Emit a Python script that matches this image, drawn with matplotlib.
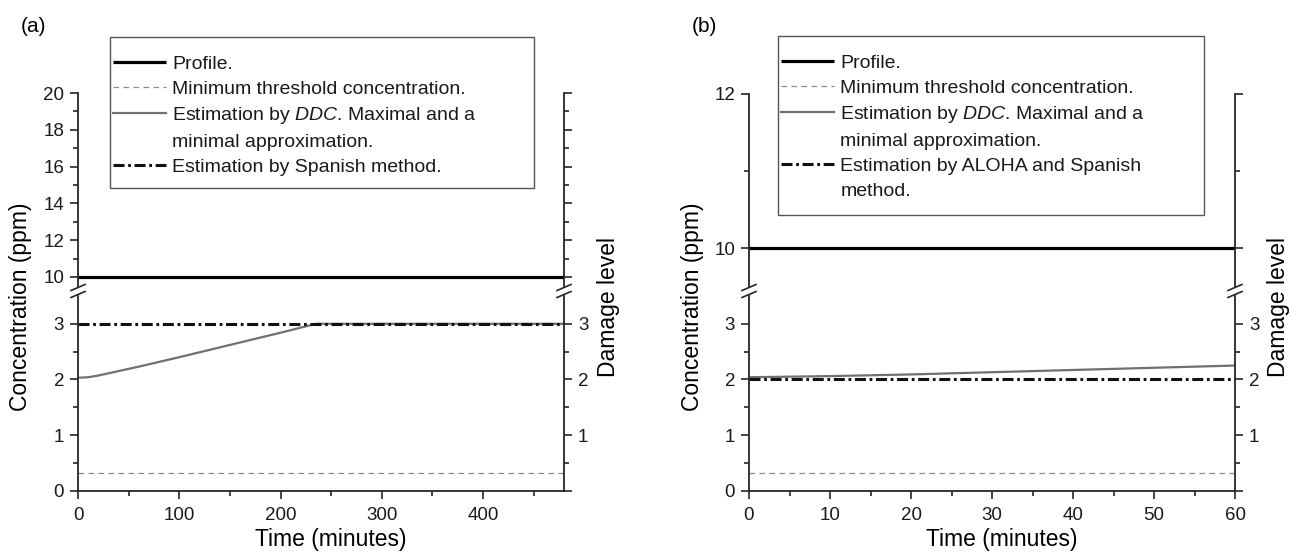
import matplotlib
matplotlib.use('Agg')
import matplotlib.pyplot as plt
from matplotlib import font_manager
from matplotlib.lines import Line2D
from matplotlib.patches import Rectangle
from matplotlib.ticker import MultipleLocator, FixedLocator

# ---- data ----
a_time = [0, 480]
a_profile = [10, 10]
a_threshold = [0.31, 0.31]
a_ddc_time = [0, 10, 20, 40, 60, 100, 150, 200, 235, 300, 400, 480]
a_ddc_conc = [2.03, 2.04, 2.07, 2.15, 2.23, 2.40, 2.62, 2.84, 3.0, 3.0, 3.0, 3.0]
a_spanish = [3, 3]

b_time = [0, 60]
b_profile = [10, 10]
b_threshold = [0.31, 0.31]
b_ddc_time = [0, 10, 20, 30, 40, 50, 60]
b_ddc_conc = [2.04, 2.06, 2.09, 2.13, 2.17, 2.21, 2.25]
b_aloha_spanish = [2, 2]

# legend rows; None marks a wrapped continuation line without a handle
a_rows = [('profile', 'Profile.'),
          ('threshold', 'Minimum threshold concentration.'),
          ('ddc', 'Estimation by $\\it{DDC}$. Maximal and a'),
          (None, 'minimal approximation.'),
          ('spanish', 'Estimation by Spanish method.')]
b_rows = [('profile', 'Profile.'),
          ('threshold', 'Minimum threshold concentration.'),
          ('ddc', 'Estimation by $\\it{DDC}$. Maximal and a'),
          (None, 'minimal approximation.'),
          ('spanish', 'Estimation by ALOHA and Spanish'),
          (None, 'method.')]

names = {f.name for f in font_manager.fontManager.ttflist}
tick_family = 'Liberation Sans Narrow' if 'Liberation Sans Narrow' in names else 'Liberation Sans'

plt.rcParams['font.family'] = ['Liberation Sans', 'DejaVu Sans']
plt.rcParams['mathtext.fontset'] = 'custom'
plt.rcParams['mathtext.rm'] = 'Liberation Sans'
plt.rcParams['mathtext.it'] = 'Liberation Sans:italic'

W, H = 1298, 552
fig = plt.figure(figsize=(W / 100, H / 100), dpi=100)

INK = '#262626'
GRAY = '#707070'
STYLES = {
    'profile': dict(color='black', lw=2.3, solid_capstyle='butt'),
    'threshold': dict(color='#8a8a8a', lw=0.9, linestyle=(0, (4.5, 3.5))),
    'ddc': dict(color=GRAY, lw=1.6),
    'spanish': dict(color='#111111', lw=2.2, linestyle=(0, (3.6, 1.2, 0.9, 1.2))),
}


def fx(px):
    return px / W


def fy(py):
    return 1 - py / H


def style_ticks(ax):
    ax.tick_params(which='major', direction='out', length=6, width=1.2, color=INK,
                   labelsize=13.5, pad=4)
    ax.tick_params(which='minor', direction='out', length=3.5, width=1.2, color=INK)
    for lab in ax.get_xticklabels() + ax.get_yticklabels():
        lab.set_family(tick_family)
        lab.set_color('#1a1a1a')


def panel(left, right, top_px, top_lim, top_major, top_minor, xlim, xmajor, xminor,
          time, profile, threshold, ddc_t, ddc_c, spanish, rows, leg_box, letter):
    gap_top, gap_bot, bottom_px = 286, 296, 490.7
    ax_t = fig.add_axes([fx(left), fy(gap_top), fx(right - left), (gap_top - top_px) / H])
    ax_b = fig.add_axes([fx(left), fy(bottom_px), fx(right - left), (bottom_px - gap_bot) / H])

    for ax in (ax_t, ax_b):
        ax.plot(time, profile, **STYLES['profile'])
        ax.plot(time, threshold, **STYLES['threshold'])
        ax.plot(ddc_t, ddc_c, **STYLES['ddc'])
        ax.plot(time, spanish, **STYLES['spanish'])
        ax.set_xlim(*xlim)
        for s in ax.spines.values():
            s.set_linewidth(1.3)
            s.set_color(INK)

    ax_t.set_ylim(*top_lim)
    ax_t.yaxis.set_major_locator(MultipleLocator(top_major))
    ax_t.yaxis.set_minor_locator(MultipleLocator(top_minor))
    ax_t.spines['top'].set_visible(False)
    ax_t.spines['bottom'].set_visible(False)
    ax_t.tick_params(axis='x', which='both', bottom=False, labelbottom=False)
    ax_t.tick_params(axis='y', which='both', right=True)
    style_ticks(ax_t)

    ax_b.set_ylim(0, 3.5)
    ax_b.set_yticks([0, 1, 2, 3])
    ax_b.yaxis.set_minor_locator(FixedLocator([0.5, 1.5, 2.5]))
    ax_b.xaxis.set_major_locator(MultipleLocator(xmajor))
    ax_b.xaxis.set_minor_locator(MultipleLocator(xminor))
    ax_b.spines['top'].set_visible(False)
    ax_b.spines['right'].set_visible(False)
    style_ticks(ax_b)
    ax_b.tick_params(axis='x', pad=6)

    ax_r = ax_b.twinx()
    ax_r.set_ylim(0, 3.5)
    ax_r.set_yticks([0, 1, 2, 3], ['', '1', '2', '3'])
    ax_r.yaxis.set_minor_locator(FixedLocator([0.5, 1.5, 2.5]))
    for side in ('top', 'left', 'bottom'):
        ax_r.spines[side].set_visible(False)
    ax_r.spines['right'].set_linewidth(1.3)
    ax_r.spines['right'].set_color(INK)
    style_ticks(ax_r)

    ax_b.set_xlabel('Time (minutes)', fontsize=16.5)
    ax_b.xaxis.set_label_coords(0.5 + 10 / (right - left), -0.19)

    # axis break marks
    for xs in (left, right):
        for yc in (287.5, 294.5):
            fig.add_artist(Line2D([fx(xs - 7), fx(xs + 7)], [fy(yc + 3), fy(yc - 3)],
                                  transform=fig.transFigure, color=INK, lw=1.2))

    fig.text(fx(left - 57), fy(307), 'Concentration (ppm)', rotation=90,
             ha='center', va='center', fontsize=16.5)
    fig.text(fx(right + 44), fy(307), 'Damage level', rotation=90,
             ha='center', va='center', fontsize=16.5)
    fig.text(fx(left - 57), fy(27), letter, ha='left', va='center', fontsize=15)

    handles = [Line2D([], [], **STYLES[key]) if key else Line2D([], [], lw=0)
               for key, _ in rows]
    labels = [text for _, text in rows]
    bx0, by0, bx1, by1 = leg_box
    leg = ax_t.legend(handles, labels, loc='upper left',
                      bbox_to_anchor=(fx(bx0 + 3), fy(by0 + 18)),
                      bbox_transform=fig.transFigure, frameon=False, borderpad=0,
                      borderaxespad=0, fontsize=14, handlelength=2.75,
                      handletextpad=0.3, labelspacing=0.38)
    for t in leg.get_texts():
        t.set_color('#1a1a1a')
    fig.add_artist(Rectangle((fx(bx0), fy(by1)), fx(bx1 - bx0), (by1 - by0) / H,
                             transform=fig.transFigure, fill=False,
                             edgecolor='#555555', lw=1.0))


panel(78, 564, 93, (9.51, 20), 2, 1, (0, 480), 100, 50,
      a_time, a_profile, a_threshold, a_ddc_time, a_ddc_conc, a_spanish,
      a_rows, (110, 37, 534, 188), '(a)')
panel(749, 1235, 94, (9.51, 12), 2, 1, (0, 60), 10, 5,
      b_time, b_profile, b_threshold, b_ddc_time, b_ddc_conc, b_aloha_spanish,
      b_rows, (778, 36, 1204, 215), '(b)')

fig.savefig('out.png', dpi=100)
